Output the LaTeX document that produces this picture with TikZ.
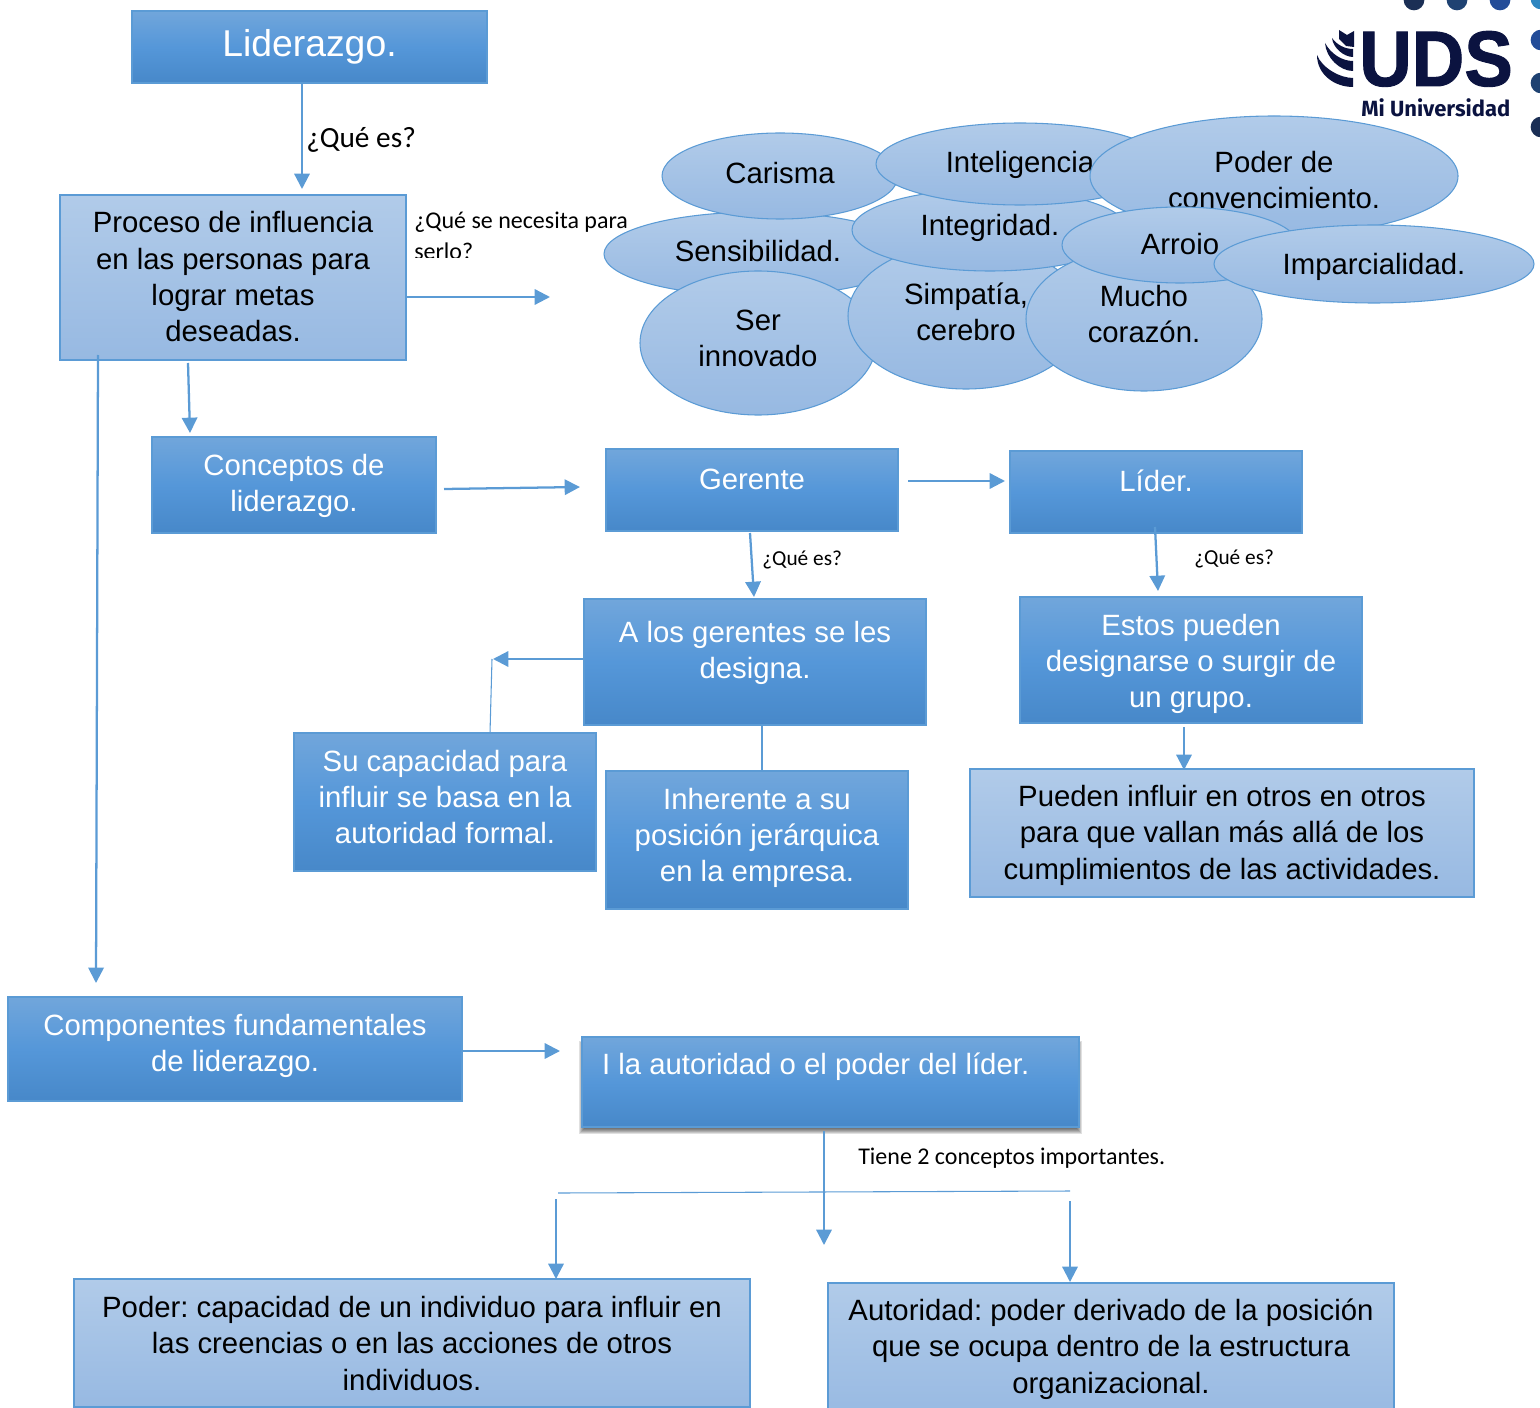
\documentclass[tikz,border=0pt]{standalone}
\usepackage{fontspec}
\setmainfont{Liberation Sans}
\newfontfamily\carl{Carlito}
\newfontfamily\logofont{Fira Sans}
\newfontfamily\udsfont[BoldFeatures={FakeBold=1.2}]{Liberation Sans}
\usetikzlibrary{arrows.meta,shapes.geometric}
\definecolor{edge}{HTML}{5B9BD5}
\definecolor{darkA}{HTML}{71A6DB}
\definecolor{darkB}{HTML}{5597D9}
\definecolor{darkC}{HTML}{4788C9}
\definecolor{lightA}{HTML}{B1CBE9}
\definecolor{lightB}{HTML}{97B9E2}
\definecolor{navy}{HTML}{0B1340}
\tikzset{
 x=0.75pt,y=-0.75pt,
 darkbox/.style={draw=edge,line width=0.8pt,top color=darkA,bottom color=darkC,middle color=darkB,text=white,inner sep=0pt,rectangle},
 lightbox/.style={draw=edge,line width=0.8pt,top color=lightA,bottom color=lightB,text=black,inner sep=0pt,rectangle},
 bub/.style={draw=edge,line width=0.8pt,top color=lightA,bottom color=lightB,text=black,inner sep=0pt,ellipse},
 link/.style={draw=edge,line width=1.7pt},
 arrowlink/.style={link,-{Triangle[length=11.5pt,width=11.5pt]}},
 thinlink/.style={draw=edge,line width=0.8pt},
 note/.style={anchor=base west,inner sep=0pt,carlfont},
 carlfont/.style={font=\carl},
 dots/.style={circle,inner sep=0pt,minimum size=15.5pt},
}
% name, style, x1,y1,x2,y2, baseline, text
\newcommand{\bx}[8]{%
 \pgfmathsetlengthmacro{\bw}{(#5-#3)*0.75}%
 \pgfmathsetlengthmacro{\bh}{(#6-#4)*0.75}%
 \pgfmathsetlengthmacro{\bd}{(#7-#4-26)*0.75}%
 \node[#2] (#1) at ({(#3+#5)/2},{(#4+#6)/2}) {\vbox to \bh{\hsize=\bw\vskip\bd\fontsize{22pt}{27.2pt}\selectfont\frenchspacing\centering\rule{0pt}{19.5pt}#8\par\vss}};}
% name, cx, cy, rx, ry, baseline, text
\newcommand{\el}[7]{%
 \pgfmathsetlengthmacro{\bw}{#4*2*0.75/1.43}%
 \pgfmathsetlengthmacro{\bh}{#5*2*0.75/1.43}%
 \pgfmathsetlengthmacro{\bd}{(#6-#3+#5/1.43-26)*0.75}%
 \node[bub,minimum width=#4*1.5pt,minimum height=#5*1.5pt] (#1) at (#2,#3) {\vbox to \bh{\hsize=\bw\vskip\bd\fontsize{22pt}{27.2pt}\selectfont\frenchspacing\centering\rule{0pt}{19.5pt}#7\par\vss}};}
\begin{document}
\begin{tikzpicture}
\useasboundingbox (0,0) rectangle (1540,1408);
\clip (0,0) rectangle (1540,1408);
% logo
\node[dots,fill={rgb,255:red,27;green,47;blue,85}] (d1) at (1414,0) {};
\node[dots,fill={rgb,255:red,31;green,66;blue,114}] (d2) at (1457,0) {};
\node[dots,fill={rgb,255:red,35;green,76;blue,152}] (d3) at (1500,0) {};
\node[dots,fill={rgb,255:red,47;green,134;blue,192}] (d4) at (1541,-1) {};
\node[dots,fill={rgb,255:red,35;green,76;blue,152}] (d5) at (1541,40) {};
\node[dots,fill={rgb,255:red,31;green,66;blue,114}] (d6) at (1541,83) {};
\node[dots,fill={rgb,255:red,27;green,47;blue,85}] (d7) at (1541,127) {};
\fill[navy] (1317,55) .. controls (1317,75) and (1335,87) .. (1353,87) -- (1353,78) .. controls (1340,78) and (1322,68) .. (1317,55) -- cycle;
\fill[navy] (1325,43) .. controls (1326,58) and (1340,71) .. (1353,71) -- (1353,61) .. controls (1342,61) and (1331,54) .. (1325,43) -- cycle;
\fill[navy] (1332,38) .. controls (1333,48) and (1344,57) .. (1353,57) -- (1353,49) .. controls (1345,49) and (1337,45) .. (1332,38) -- cycle;
\fill[navy] (1339,30) -- (1347,35) -- (1354,31) -- (1354,47) -- (1346,46) -- (1339,39) -- cycle;
\node[anchor=base west,inner sep=0pt,text=navy,xscale=0.925] (uds) at (1359,86) {\udsfont\fontsize{59pt}{60pt}\selectfont\bfseries UDS};
\node[anchor=base west,inner sep=0pt,text=navy] (mi) at (1361,117) {\logofont\fontsize{16.5pt}{18pt}\selectfont\bfseries Mi Universidad};
% shadow of the authority box
\foreach \i in {0,1,...,5} {
 \fill[black,opacity=0.12] ({582-3+\i},{1041+\i}) rectangle ({1079+3-\i},{1127+7-\i});
}
% boxes
\bx{lid}{darkbox}{132}{11}{487}{83}{55}{\fontsize{28pt}{30pt}\selectfont Liderazgo.}
\bx{proc}{lightbox}{60}{195}{406}{360}{233}{Proceso de influencia\\en las personas para\\lograr metas\\deseadas.}
\bx{conc}{darkbox}{152}{437}{436}{533}{475}{Conceptos de\\liderazgo.}
\bx{ger}{darkbox}{606}{449}{898}{531}{489}{Gerente}
\bx{lider}{darkbox}{1010}{451}{1302}{533}{491}{Líder.}
\bx{alos}{darkbox}{584}{599}{926}{725}{642.5}{A los gerentes se les\\designa.}
\bx{estos}{darkbox}{1020}{597}{1362}{723}{635}{Estos pueden\\designarse o surgir de\\un grupo.}
\bx{sucap}{darkbox}{294}{733}{596}{871}{771}{Su capacidad para\\influir se basa en la\\autoridad formal.}
\bx{inh}{darkbox}{606}{771}{908}{909}{809}{Inherente a su\\posición jerárquica\\en la empresa.}
\bx{pueden}{lightbox}{970}{769}{1474}{897}{806.5}{Pueden influir en otros en otros\\para que vallan más allá de los\\cumplimientos de las actividades.}
\bx{comp}{darkbox}{8}{997}{462}{1101}{1035}{Componentes fundamentales\\de liderazgo.}
\bx{auth}{darkbox}{582}{1037}{1079}{1127}{1074}{\raggedright\hspace*{15pt}I la autoridad o el poder del líder.}
\bx{poder}{lightbox}{74}{1279}{750}{1407}{1317.5}{Poder: capacidad de un individuo para influir en\\las creencias o en las acciones de otros\\individuos.}
\bx{autor}{lightbox}{828}{1283}{1394}{1420}{1320.5}{Autoridad: poder derivado de la posición\\que se ocupa dentro de la estructura\\organizacional.}
% bubbles
\el{sens}{758}{254}{154}{42}{262}{Sensibilidad.}
\el{car}{780}{176}{118}{43}{184}{Carisma}
\el{ser}{758}{343}{118}{72}{330.5}{Ser\\innovado}
\el{sim}{966}{316}{118}{73}{304.5}{Simpatía,\\cerebro}
\el{integ}{990}{230}{138}{41}{236}{Integridad.}
\el{intel}{1020}{164}{144}{41}{173}{Inteligencia}
\el{convenc}{1274}{176}{184}{60}{172.5}{Poder de\\convencimiento.}
\el{mucho}{1144}{319}{118}{72}{306.5}{Mucho\\corazón.}
\el{arr}{1180}{245}{118}{38}{255}{Arroio}
\el{imp}{1374}{264}{160}{39}{275}{Imparcialidad.}
% labels
\node[note] (q1) at (306,148) {\fontsize{22pt}{26pt}\selectfont ¿Qué es?};
\begin{scope}
\clip (410,200) rectangle (640,257.5);
\node[note] (q2) at (414,228.5) {\fontsize{18pt}{21pt}\selectfont ¿Qué se necesita para};
\node[note] (q2b) at (414,260) {\fontsize{18pt}{21pt}\selectfont serlo?};
\end{scope}
\node[note] (q3) at (762,565) {\fontsize{16pt}{19pt}\selectfont ¿Qué es?};
\node[note] (q4) at (1194,564) {\fontsize{16pt}{19pt}\selectfont ¿Qué es?};
\node[note] (q5) at (858,1164.5) {\fontsize{18pt}{21pt}\selectfont Tiene 2 conceptos importantes.};
% free ends
\coordinate (e1) at (302,189);
\coordinate (e2) at (550,297);
\coordinate (s3) at (188,363);
\coordinate (e3) at (190,433);
\coordinate (s4) at (98,355);
\coordinate (e4) at (96,983);
\coordinate (s5) at (444,489);
\coordinate (e5) at (580,487);
\coordinate (s6) at (908,481);
\coordinate (e6) at (1005,481);
\coordinate (s7) at (750,533);
\coordinate (e7) at (754,597);
\coordinate (s8) at (1155,527);
\coordinate (e8) at (1158,591);
\coordinate (e9) at (493,659);
\coordinate (s10) at (490,733);
\coordinate (e10) at (492,659);
\coordinate (s11) at (762,725);
\coordinate (e11) at (762,771);
\coordinate (s12) at (1184,727);
\coordinate (e12) at (1184,770);
\coordinate (e13) at (560,1051);
\coordinate (s14) at (824,1131);
\coordinate (e14) at (824,1245);
\coordinate (h1) at (558,1193);
\coordinate (h2) at (1070,1191);
\coordinate (s15) at (556,1199);
\coordinate (e15) at (556,1279);
\coordinate (s16) at (1070,1201);
\coordinate (e16) at (1070,1282);
% connectors
\draw[arrowlink] (lid.south -| e1) -- (e1);
\draw[arrowlink] (proc.east |- e2) -- (e2);
\draw[arrowlink] (s3) -- (e3);
\draw[arrowlink] (s4) -- (e4);
\draw[arrowlink] (s5) -- (e5);
\draw[arrowlink] (s6) -- (e6);
\draw[arrowlink] (s7) -- (e7);
\draw[arrowlink] (s8) -- (e8);
\draw[arrowlink] (alos.west |- e9) -- (e9);
\draw[thinlink] (s10) -- (e10);
\draw[thinlink] (s11) -- (e11);
\draw[arrowlink] (s12) -- (e12);
\draw[arrowlink] (comp.east |- e13) -- (e13);
\draw[arrowlink] (s14) -- (e14);
\draw[thinlink] (h1) -- (h2);
\draw[arrowlink] (s15) -- (e15);
\draw[arrowlink] (s16) -- (e16);
\end{tikzpicture}
\end{document}
